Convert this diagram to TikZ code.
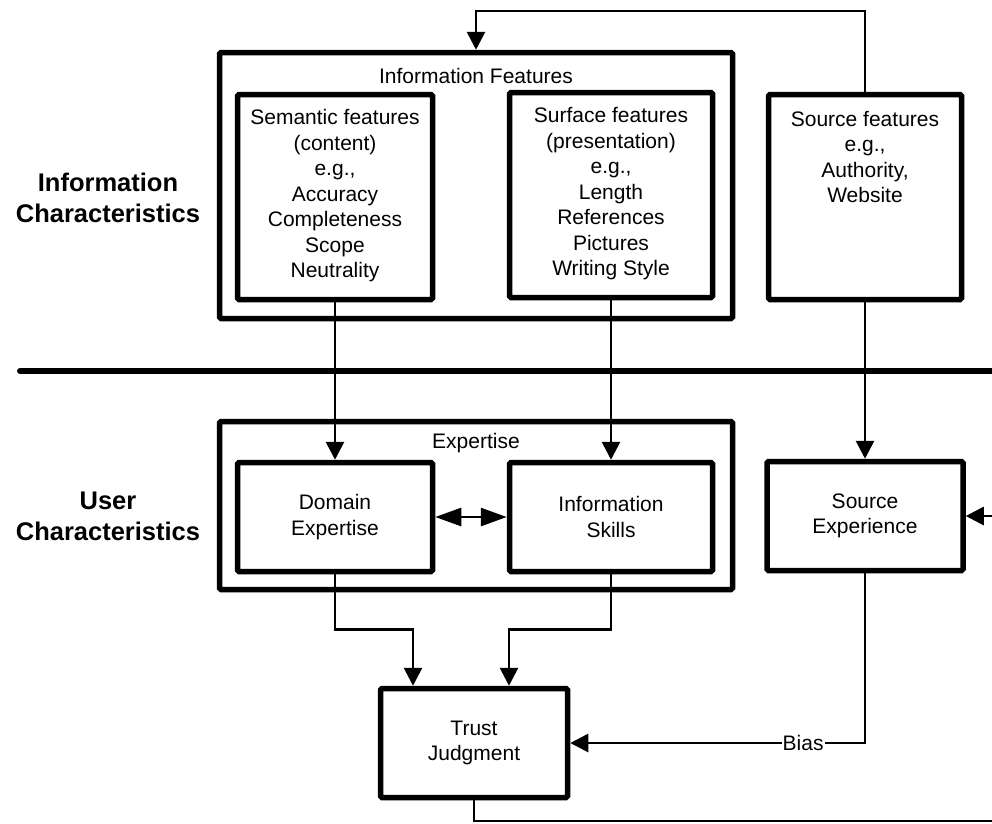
\documentclass[tikz,border=0pt]{standalone}
\usepackage{fontspec}
\setmainfont{Liberation Sans}
\usetikzlibrary{arrows.meta,calc}
\begin{document}
\begin{tikzpicture}[x=1pt,y=-1pt,
  box/.style={draw, line width=5.5pt, rounded corners=1.5pt, inner sep=0pt, align=center, font=\fontsize{21}{25.5}\selectfont},
  txt/.style={inner sep=0pt, align=center, font=\fontsize{21}{25.5}\selectfont},
  side/.style={inner sep=0pt, align=center, font=\fontsize{25.5}{31}\selectfont\bfseries},
  conn/.style={line width=2.8pt},
  arr/.style={conn, -{Triangle[length=18pt,width=18pt]}},
  darr/.style={conn, {Triangle[length=26pt,width=18pt]}-{Triangle[length=26pt,width=18pt]}},
  lbl/.style={fill=white, inner sep=1pt, font=\fontsize{21}{25.5}\selectfont},
]
\useasboundingbox (0,0) rectangle (992,823);

% side labels
\node[side] (infochar) at (108,198) {Information\\Characteristics};
\node[side] (userchar) at (108,516) {User\\Characteristics};

% divider
\coordinate (divL) at (20,371);
\coordinate (divR) at (995,371);
\draw[line width=6pt, line cap=round] (divL) -- (divR);

% information features
\node[box, minimum width=513, minimum height=266] (infofeat) at (476,185.5) {};
\node[txt] (infofeatt) at (476,76) {Information Features};
\node[box, minimum width=195, minimum height=205] (sem) at (335,197) {};
\node[txt] (semt) at (335,196) {Semantic features\\(content)\\e.g.,\\Accuracy\\Completeness\\Scope\\Neutrality};
\node[box, minimum width=203, minimum height=205] (surf) at (611,195) {};
\node[txt] (surft) at (611,194) {Surface features\\(presentation)\\e.g.,\\Length\\References\\Pictures\\Writing Style};
\node[box, minimum width=193, minimum height=205] (srcfeat) at (865,197) {};
\node[txt] (srcfeatt) at (865,157) {Source features\\e.g.,\\Authority,\\Website};

% expertise
\node[box, minimum width=513, minimum height=168] (expert) at (476,505.5) {};
\node[txt] (expertt) at (476,443) {Expertise};
\node[box, minimum width=195, minimum height=109] (dom) at (335,517) {Domain\\Expertise};
\node[box, minimum width=203, minimum height=109] (info) at (611,517) {Information\\Skills};
\node[box, minimum width=196, minimum height=109] (srcexp) at (865,516) {Source\\Experience};

% trust
\node[box, minimum width=187, minimum height=109] (trust) at (474,743) {Trust\\Judgment};

% connectors
\coordinate (topturn) at (865,11);
\draw[arr] (srcfeat.north) -- (topturn) -| (infofeat.north);
\draw[arr] (sem.south) -- (dom.north);
\draw[arr] (surf.south) -- (info.north);
\draw[arr] (srcfeat.south) -- (srcexp.north);
\draw[darr] (dom.east) -- (info.west);
\coordinate (rightin) at (995,516);
\draw[arr] (rightin) -- (srcexp.east);
\draw[arr] (dom.south) -- ++(0,55) -| ([xshift=-61pt]trust.north);
\draw[arr] (info.south) -- ++(0,55) -| ([xshift=35pt]trust.north);
\draw[arr] (srcexp.south) |- node[lbl, pos=0.605] (bias) {Bias} (trust.east);
\coordinate (botend) at (995,821);
\draw[conn] (trust.south) |- (botend);
\end{tikzpicture}
\end{document}
